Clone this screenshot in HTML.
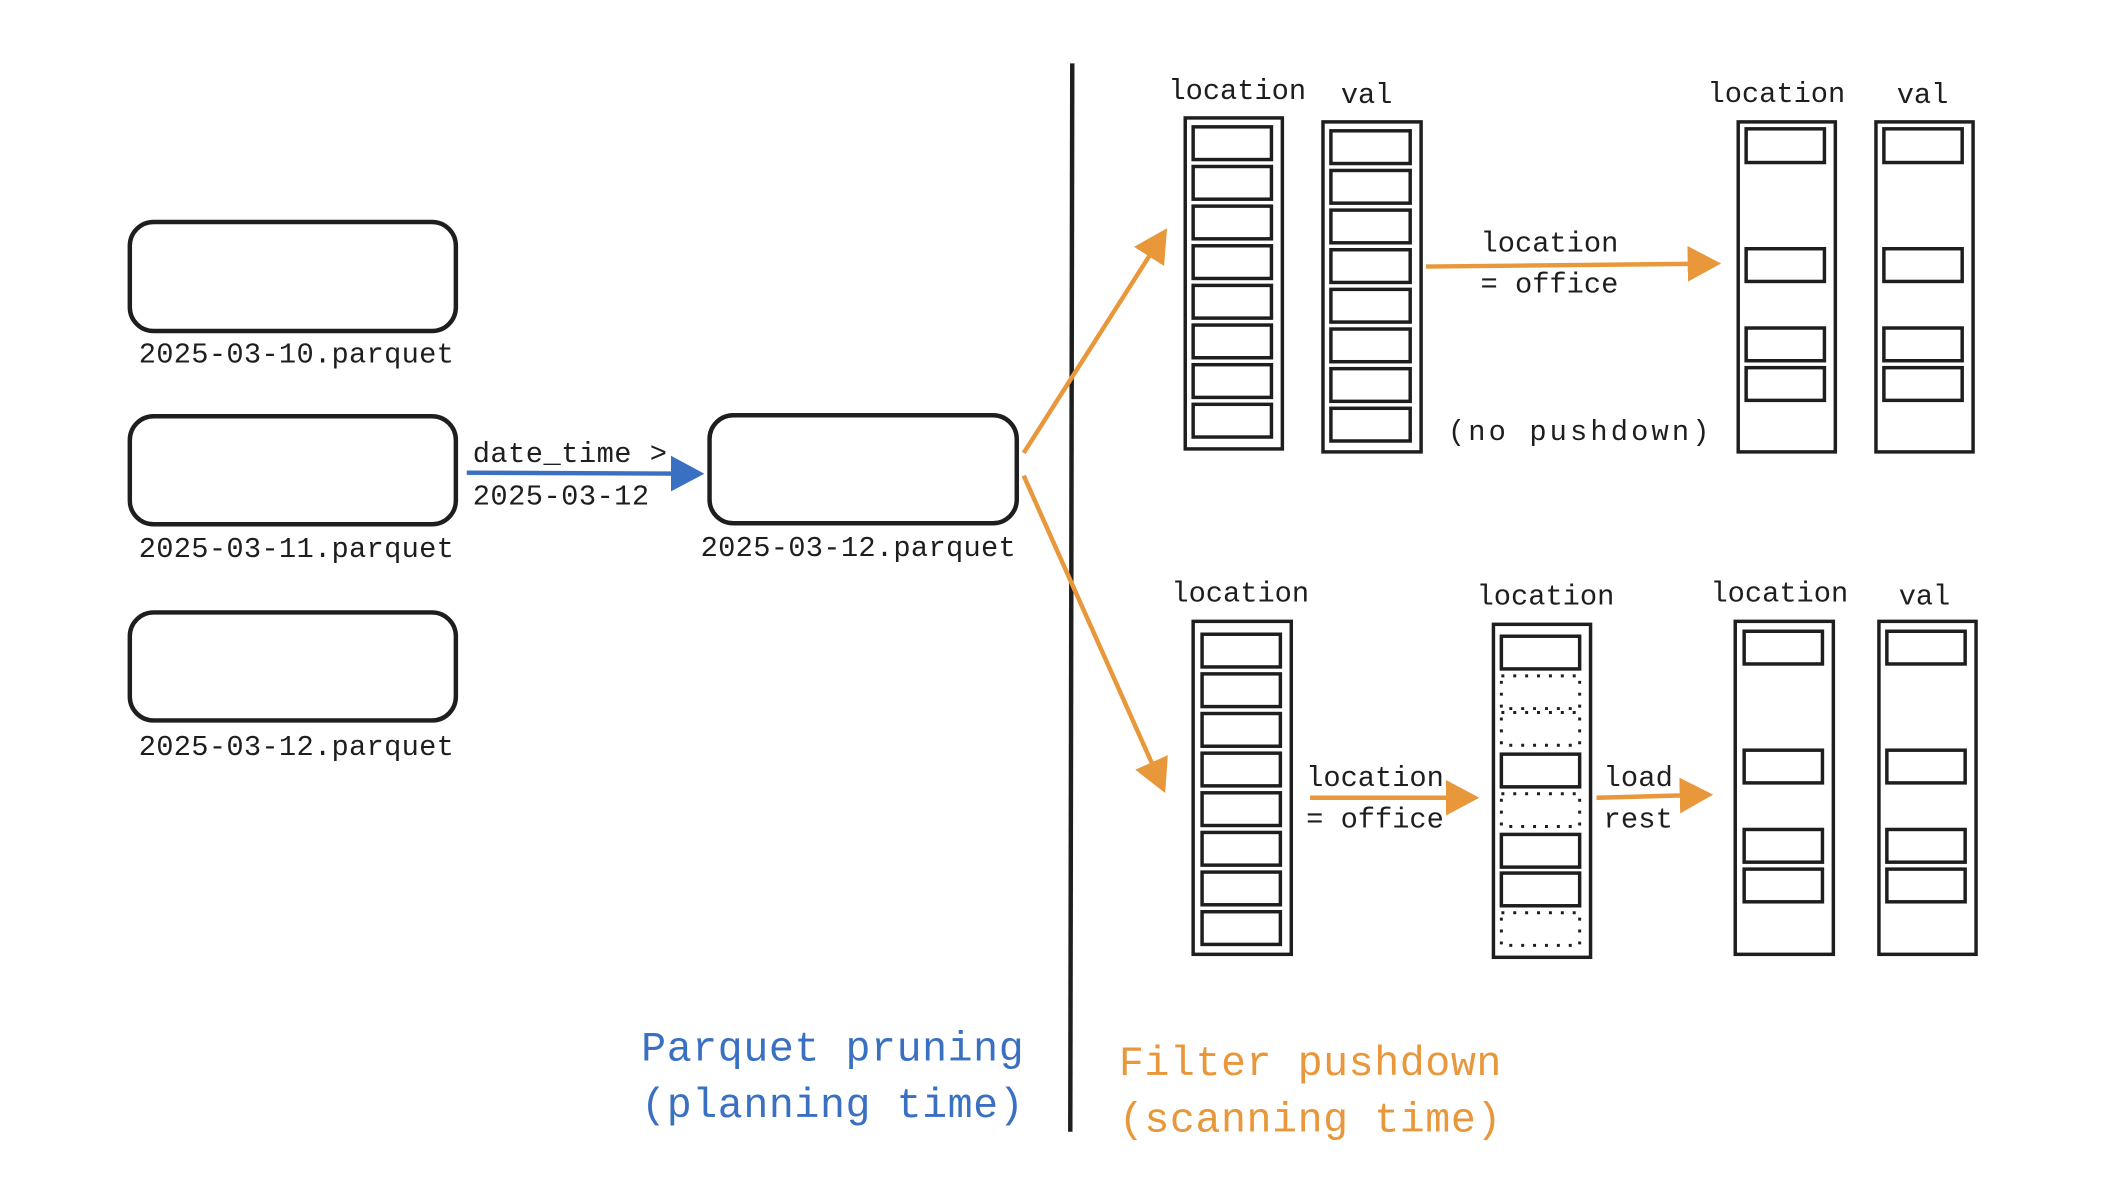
<!DOCTYPE html>
<html><head><meta charset="utf-8"><style>
html,body{margin:0;padding:0;background:#fff;}
svg{display:block;}
text{font-family:"Liberation Mono","DejaVu Sans Mono",monospace;font-size:29px;fill:#1e1e1e;}
.b{fill:#3a70c2;font-size:42px;}
.o{fill:#e8973a;font-size:42px;}
</style></head><body>
<svg width="2118" height="1190" viewBox="0 0 2118 1190" xmlns="http://www.w3.org/2000/svg">
<defs>
<marker id="ao" markerWidth="8" markerHeight="8" refX="6" refY="4" orient="auto" markerUnits="strokeWidth"><path d="M0,0 L7.5,4 L0,8 Z" fill="#e8973a"/></marker>
<marker id="ab" markerWidth="8" markerHeight="8" refX="6" refY="4" orient="auto" markerUnits="strokeWidth"><path d="M0,0 L7.5,4 L0,8 Z" fill="#3a70c2"/></marker>
</defs>
<g transform="scale(0.991)">
<g fill="none" stroke="#1e1e1e" stroke-width="4.5">
<rect x="131" y="224" width="329" height="110" rx="24"/>
<rect x="131" y="420" width="329" height="109" rx="24"/>
<rect x="131" y="618" width="329" height="109" rx="24"/>
<rect x="716" y="419" width="310" height="109" rx="24"/>
</g>
<text x="140" y="366" textLength="318">2025-03-10.parquet</text>
<text x="140" y="562" textLength="318">2025-03-11.parquet</text>
<text x="140" y="762" textLength="318">2025-03-12.parquet</text>
<text x="707" y="561" textLength="318">2025-03-12.parquet</text>
<line x1="471" y1="477" x2="704" y2="478" stroke="#3a70c2" stroke-width="4.5" marker-end="url(#ab)"/>
<text x="477" y="466" textLength="196">date_time &gt;</text>
<text x="477" y="509" textLength="178">2025-03-12</text>
<line x1="1082" y1="64" x2="1080" y2="1142" stroke="#1e1e1e" stroke-width="4.5"/>
<g stroke="#e8973a" stroke-width="4.5" fill="none">
<line x1="1033" y1="457" x2="1174" y2="236" marker-end="url(#ao)"/>
<line x1="1033" y1="480" x2="1173" y2="794" marker-end="url(#ao)"/>
<line x1="1439" y1="269" x2="1730" y2="266" marker-end="url(#ao)"/>
<line x1="1322" y1="805" x2="1486" y2="805" marker-end="url(#ao)"/>
<line x1="1611" y1="805" x2="1722" y2="802" marker-end="url(#ao)"/>
</g>
<g fill="none" stroke="#1e1e1e" stroke-width="3.5">
<rect x="1196" y="119" width="98" height="334"/>
<rect x="1204" y="128" width="79" height="33"/><rect x="1204" y="168" width="79" height="33"/><rect x="1204" y="208" width="79" height="33"/><rect x="1204" y="248" width="79" height="33"/><rect x="1204" y="288" width="79" height="33"/><rect x="1204" y="328" width="79" height="33"/><rect x="1204" y="368" width="79" height="33"/><rect x="1204" y="408" width="79" height="33"/>
<rect x="1335" y="123" width="99" height="333"/>
<rect x="1343" y="132" width="80" height="33"/><rect x="1343" y="172" width="80" height="33"/><rect x="1343" y="212" width="80" height="33"/><rect x="1343" y="252" width="80" height="33"/><rect x="1343" y="292" width="80" height="33"/><rect x="1343" y="332" width="80" height="33"/><rect x="1343" y="372" width="80" height="33"/><rect x="1343" y="412" width="80" height="33"/>
<rect x="1754" y="123" width="98" height="333"/>
<rect x="1762" y="130" width="79" height="34"/><rect x="1762" y="251" width="79" height="33"/><rect x="1762" y="331" width="79" height="33"/><rect x="1762" y="371" width="79" height="33"/>
<rect x="1893" y="123" width="98" height="333"/>
<rect x="1901" y="130" width="79" height="34"/><rect x="1901" y="251" width="79" height="33"/><rect x="1901" y="331" width="79" height="33"/><rect x="1901" y="371" width="79" height="33"/>
<rect x="1204" y="627" width="99" height="336"/>
<rect x="1213" y="640" width="79" height="33"/><rect x="1213" y="680" width="79" height="33"/><rect x="1213" y="720" width="79" height="33"/><rect x="1213" y="760" width="79" height="33"/><rect x="1213" y="800" width="79" height="33"/><rect x="1213" y="840" width="79" height="33"/><rect x="1213" y="880" width="79" height="33"/><rect x="1213" y="920" width="79" height="33"/>
<rect x="1507" y="630" width="98" height="336"/>
<rect x="1515" y="642" width="79" height="33"/><rect x="1515" y="761" width="79" height="33"/><rect x="1515" y="842" width="79" height="33"/><rect x="1515" y="881" width="79" height="33"/>
<rect x="1751" y="627" width="99" height="336"/>
<rect x="1760" y="637" width="79" height="33"/><rect x="1760" y="757" width="79" height="33"/><rect x="1760" y="837" width="79" height="33"/><rect x="1760" y="877" width="79" height="33"/>
<rect x="1896" y="627" width="98" height="336"/>
<rect x="1904" y="637" width="79" height="33"/><rect x="1904" y="757" width="79" height="33"/><rect x="1904" y="837" width="79" height="33"/><rect x="1904" y="877" width="79" height="33"/>
</g>
<g fill="none" stroke="#1e1e1e" stroke-width="3" stroke-dasharray="3 9">
<rect x="1515" y="682" width="79" height="33"/><rect x="1515" y="719" width="79" height="33"/><rect x="1515" y="801" width="79" height="33"/><rect x="1515" y="921" width="79" height="33"/>
</g>
<text x="1179" y="100" textLength="139">location</text>
<text x="1353" y="104" textLength="52">val</text>
<text x="1723" y="103" textLength="139">location</text>
<text x="1914" y="104" textLength="52">val</text>
<text x="1494" y="254" textLength="139">location</text>
<text x="1494" y="295" textLength="139">= office</text>
<text x="1461" y="444" textLength="264">(no pushdown)</text>
<text x="1182" y="607" textLength="139">location</text>
<text x="1490" y="610" textLength="139">location</text>
<text x="1726" y="607" textLength="139">location</text>
<text x="1916" y="610" textLength="52">val</text>
<text x="1318" y="793" textLength="139">location</text>
<text x="1318" y="835" textLength="139">= office</text>
<text x="1618" y="793" textLength="70">load</text>
<text x="1618" y="835" textLength="70">rest</text>
<text class="b" x="647" y="1070" textLength="386">Parquet pruning</text>
<text class="b" x="647" y="1127" textLength="386">(planning time)</text>
<text class="o" x="1129" y="1085" textLength="386">Filter pushdown</text>
<text class="o" x="1129" y="1142" textLength="386">(scanning time)</text>
</g>
</svg>
</body></html>
